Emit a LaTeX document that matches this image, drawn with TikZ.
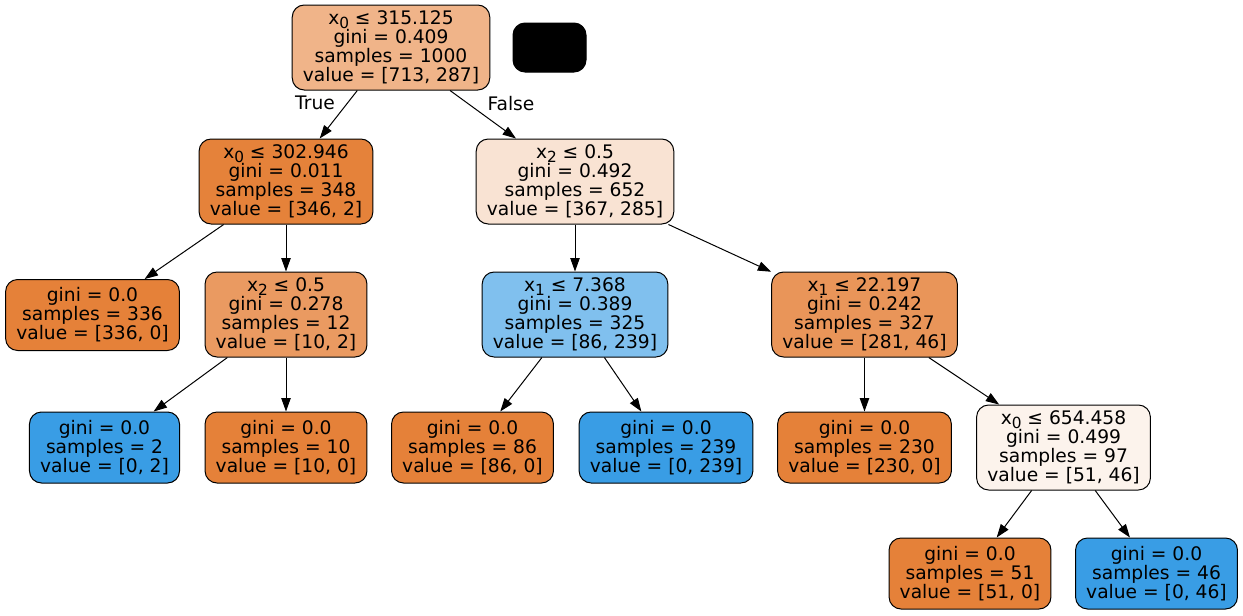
\documentclass[tikz,border=0pt]{standalone}
\usepackage{fontspec}
\setmainfont{DejaVu Sans}
\usetikzlibrary{arrows.meta,positioning}
\definecolor{LeafOrange}{HTML}{E58139}
\definecolor{LeafBlue}{HTML}{399DE5}
\definecolor{RootTan}{HTML}{F0B489}
\definecolor{DeepOrange}{HTML}{E5823A}
\definecolor{PaleOrange}{HTML}{F9E3D3}
\definecolor{MidOrange}{HTML}{EA9A61}
\definecolor{SkyBlue}{HTML}{80C0EE}
\definecolor{WarmOrange}{HTML}{E99559}
\definecolor{Cream}{HTML}{FCF3EC}
\newcommand{\feat}[1]{x\raisebox{-0.4ex}{\fontsize{11.5}{12}\selectfont #1}}

\begin{document}
\begin{tikzpicture}[
    x=0.75pt, y=-0.75pt,
    font=\fontsize{14}{14.3}\selectfont,
    box/.style={draw, rounded corners=9pt, line width=0.75pt, align=center, inner xsep=8pt, inner ysep=0pt},
    split/.style={box, minimum height=63.75pt},
    leaf/.style={box, minimum height=53.25pt},
    arrow/.style={-{Triangle[length=10pt,width=7pt]}, line width=0.75pt}
]
\useasboundingbox (0,0) rectangle (1243,615);
% decision nodes
\node[split, fill=RootTan] (root) at (391,47.5) {\feat{0} ≤ 315.125\\gini = 0.409\\samples = 1000\\value = [713, 287]};
\node[box, fill=black, minimum width=54.75pt, minimum height=36.75pt] (legend) at (549.5,47.5) {};
\node[split, fill=DeepOrange] (left) at (286,181.5) {\feat{0} ≤ 302.946\\gini = 0.011\\samples = 348\\value = [346, 2]};
\node[split, fill=PaleOrange] (right) at (575,181.5) {\feat{2} ≤ 0.5\\gini = 0.492\\samples = 652\\value = [367, 285]};
\node[leaf, fill=LeafOrange] (leafA) at (92.5,315) {gini = 0.0\\samples = 336\\value = [336, 0]};
\node[split, fill=MidOrange] (leftR) at (286,314.5) {\feat{2} ≤ 0.5\\gini = 0.278\\samples = 12\\value = [10, 2]};
\node[split, fill=SkyBlue] (rightL) at (575,314.5) {\feat{1} ≤ 7.368\\gini = 0.389\\samples = 325\\value = [86, 239]};
\node[split, fill=WarmOrange] (rightR) at (864.5,314.5) {\feat{1} ≤ 22.197\\gini = 0.242\\samples = 327\\value = [281, 46]};
% third level
\node[leaf, fill=LeafBlue] (leafB) at (104.5,447.5) {gini = 0.0\\samples = 2\\value = [0, 2]};
\node[leaf, fill=LeafOrange] (leafC) at (286,447.5) {gini = 0.0\\samples = 10\\value = [10, 0]};
\node[leaf, fill=LeafOrange] (leafD) at (472.5,447.5) {gini = 0.0\\samples = 86\\value = [86, 0]};
\node[leaf, fill=LeafBlue] (leafE) at (666,447.5) {gini = 0.0\\samples = 239\\value = [0, 239]};
\node[leaf, fill=LeafOrange] (leafF) at (864.5,447.5) {gini = 0.0\\samples = 230\\value = [230, 0]};
\node[split, fill=Cream] (deep) at (1063.5,447.5) {\feat{0} ≤ 654.458\\gini = 0.499\\samples = 97\\value = [51, 46]};
\node[leaf, fill=LeafOrange] (leafG) at (970,573.5) {gini = 0.0\\samples = 51\\value = [51, 0]};
\node[leaf, fill=LeafBlue] (leafH) at (1156.5,573.5) {gini = 0.0\\samples = 46\\value = [0, 46]};

\node (truelbl) at (315,103) {True};
\node (falselbl) at (511,104) {False};

\draw[arrow] (root) -- (left);
\draw[arrow] (root) -- (right);
\draw[arrow] (left) -- (leafA);
\draw[arrow] (left) -- (leftR);
\draw[arrow] (leftR) -- (leafB);
\draw[arrow] (leftR) -- (leafC);
\draw[arrow] (right) -- (rightL);
\draw[arrow] (right) -- (rightR);
\draw[arrow] (rightL) -- (leafD);
\draw[arrow] (rightL) -- (leafE);
\draw[arrow] (rightR) -- (leafF);
\draw[arrow] (rightR) -- (deep);
\draw[arrow] (deep) -- (leafG);
\draw[arrow] (deep) -- (leafH);
\end{tikzpicture}
\end{document}
